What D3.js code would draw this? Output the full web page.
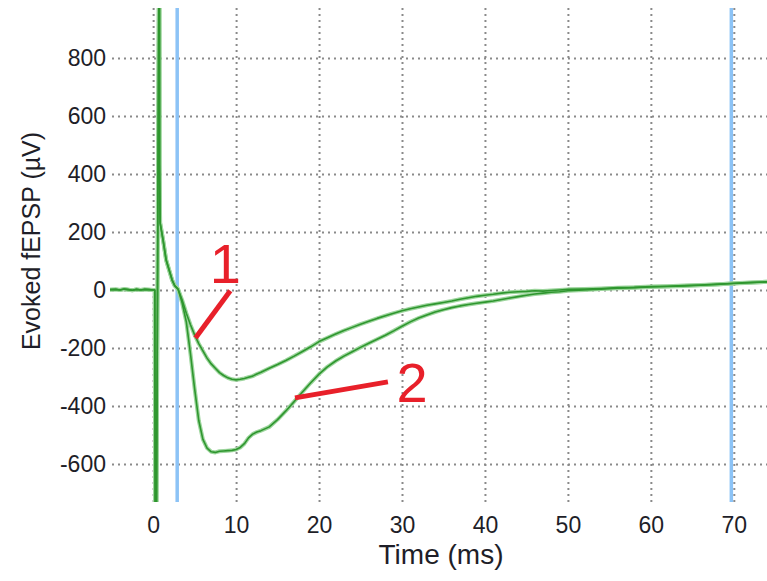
<!DOCTYPE html>
<html lang="en">
    <head>
        <meta charset="UTF-8" />
        <title>Evoked fEPSP</title>
        <script src="https://d3js.org/d3.v7.min.js"></script>
        <style>
            body { margin: 0; background: #fff; }
            text { font-family: "Liberation Sans", Arial, sans-serif; }
        </style>
    </head>
    <body>
        <div class="canvas"></div>
        <script>
            // stimulus artefact + early decay, shared by both sweeps (ms, µV)
            const headTime = [-5.2, -4.5, -4, -3.5, -3, -2.5, -2, -1.5, -1, -0.5, 0, 0.2, 0.25, 0.4, 0.7, 0.76, 0.78, 0.84, 1.2, 1.57, 2.29, 2.6];
            const headValue = [1, 2, 0, 3, 1, -1, 2, 0, 2, 1, 0, 0, -800, -800, 1100, 1100, 430, 231, 172, 103, 34, 15];

            // after the artefact
            const time = [3, 3.5, 4, 4.5, 5, 5.5, 6, 6.5, 7, 7.5, 8, 8.5, 9, 9.5, 10, 10.5, 11, 11.5, 12, 12.5, 13,
                14, 15, 16, 17, 18, 19, 20, 21, 22, 23, 24, 25, 26, 27, 28, 29, 30, 31, 32, 33, 34, 35, 36, 37, 38, 39, 40,
                41, 42, 43, 44, 45, 46, 47, 48, 49, 50, 52, 54, 56, 58, 60, 62, 64, 66, 68, 70, 72, 74];
            const sweep1 = [3, -35, -80, -120, -155, -185, -210, -235, -255, -270, -285, -295, -303, -308, -310, -308, -305, -301, -297, -290, -284,
                -270, -257, -243, -228, -212, -196, -178, -165, -152, -140, -129, -118, -108, -98, -89, -80, -72, -65, -59, -53, -48, -43, -38, -32, -27, -22, -18,
                -15, -11, -8, -6, -5, -3, -4, -2, 0, 2, 3, 5, 8, 9, 12, 13, 15, 17, 20, 22, 25, 28];
            const sweep2 = [3, -45, -110, -220, -340, -450, -515, -545, -558, -560, -556, -555, -554, -553, -550, -543, -530, -510, -497, -490, -485,
                -472, -447, -417, -385, -352, -320, -290, -265, -245, -228, -213, -198, -184, -170, -156, -141, -125, -110, -97, -86, -76, -68, -61, -55, -50, -46, -42,
                -38, -33, -28, -23, -18, -14, -11, -8, -6, -3, 0, 3, 6, 8, 10, 12, 14, 16, 19, 23, 26, 28];

            const cursors = [2.9, 69.7];
            const xTicks = [0, 10, 20, 30, 40, 50, 60, 70];
            const yTicks = [-600, -400, -200, 0, 200, 400, 600, 800];

            // red callouts: [t0, v0, t1, v1]
            const callouts = [
                { label: "1", line: [9.3, -3, 5.1, -166], at: [8.7, 24] },
                { label: "2", line: [17.1, -372, 28.3, -317], at: [31.2, -386] },
            ];

            const width = 767;
            const height = 581;
            const [mt, mr, mb, ml] = [8, 0, 79, 110];
            const w = width - ml - mr;
            const h = height - mt - mb;

            const svg = d3
                .select(".canvas")
                .append("svg")
                .attr("width", width)
                .attr("height", height);

            const x = d3.scaleLinear().domain([-5.2, 74]).range([0, w]);
            const y = d3.scaleLinear().domain([-731, 972]).range([h, 0]);

            const g = svg.append("g").attr("transform", `translate(${ml}, ${mt})`);

            g.append("clipPath")
                .attr("id", "plot")
                .append("rect")
                .attr("width", w)
                .attr("height", h);

            // grid via axes
            const yAxisG = g
                .append("g")
                .call(
                    d3.axisLeft(y).tickValues(yTicks).tickFormat((d) => String(d))
                        .tickSizeInner(-w).tickSizeOuter(0).tickPadding(4)
                );
            const xAxisG = g
                .append("g")
                .attr("transform", `translate(0, ${h})`)
                .call(
                    d3.axisBottom(x).tickValues(xTicks).tickFormat((d) => String(d))
                        .tickSizeInner(-h).tickSizeOuter(0).tickPadding(15)
                );

            [xAxisG, yAxisG].forEach((a) => {
                a.select(".domain").remove();
                a.selectAll(".tick line")
                    .attr("stroke", "#8a8a8a")
                    .attr("stroke-width", 2)
                    .attr("stroke-dasharray", "2,4");
                a.selectAll(".tick text")
                    .attr("fill", "#1e1e28")
                    .style("font-size", "23px");
            });
            yAxisG.selectAll(".tick line").attr("x1", 2);

            const plot = g.append("g").attr("clip-path", "url(#plot)");

            // cursors
            plot.selectAll(".cursor")
                .data(cursors)
                .enter()
                .append("line")
                .attr("x1", (d) => x(d))
                .attr("x2", (d) => x(d))
                .attr("y1", 0)
                .attr("y2", h)
                .attr("stroke", "#8cc3f6")
                .attr("stroke-width", 3.5);

            const head = headTime.map((t, i) => [t, headValue[i]]);
            const traces = [sweep1, sweep2].map((vals) =>
                head.concat(time.map((t, i) => [t, vals[i]]))
            );

            const line = d3
                .line()
                .x((d) => x(d[0]))
                .y((d) => y(d[1]));

            plot.selectAll(".halo")
                .data(traces)
                .enter()
                .append("path")
                .attr("fill", "none")
                .attr("stroke", "#9dd59d")
                .attr("stroke-width", 4)
                .attr("stroke-linejoin", "round")
                .attr("d", line);

            plot.selectAll(".trace")
                .data(traces)
                .enter()
                .append("path")
                .attr("fill", "none")
                .attr("stroke", "#2e962e")
                .attr("stroke-width", 1.6)
                .attr("stroke-linejoin", "round")
                .attr("d", line);

            // callouts
            g.selectAll(".callout")
                .data(callouts)
                .enter()
                .append("line")
                .attr("x1", (d) => x(d.line[0]))
                .attr("y1", (d) => y(d.line[1]))
                .attr("x2", (d) => x(d.line[2]))
                .attr("y2", (d) => y(d.line[3]))
                .attr("stroke", "#e8202a")
                .attr("stroke-width", 5);

            g.selectAll(".callout-label")
                .data(callouts)
                .enter()
                .append("text")
                .attr("x", (d) => x(d.at[0]))
                .attr("y", (d) => y(d.at[1]))
                .attr("text-anchor", "middle")
                .attr("fill", "#e8202a")
                .style("font-size", "56px")
                .text((d) => d.label);

            svg.append("text")
                .attr("x", 441)
                .attr("y", 564)
                .attr("text-anchor", "middle")
                .attr("fill", "#1e1e28")
                .style("font-size", "28px")
                .text("Time (ms)");

            svg.append("text")
                .attr("transform", "translate(40, 241) rotate(-90)")
                .attr("text-anchor", "middle")
                .attr("fill", "#1e1e28")
                .style("font-size", "25px")
                .text("Evoked fEPSP (µV)");
        </script>
    </body>
</html>
